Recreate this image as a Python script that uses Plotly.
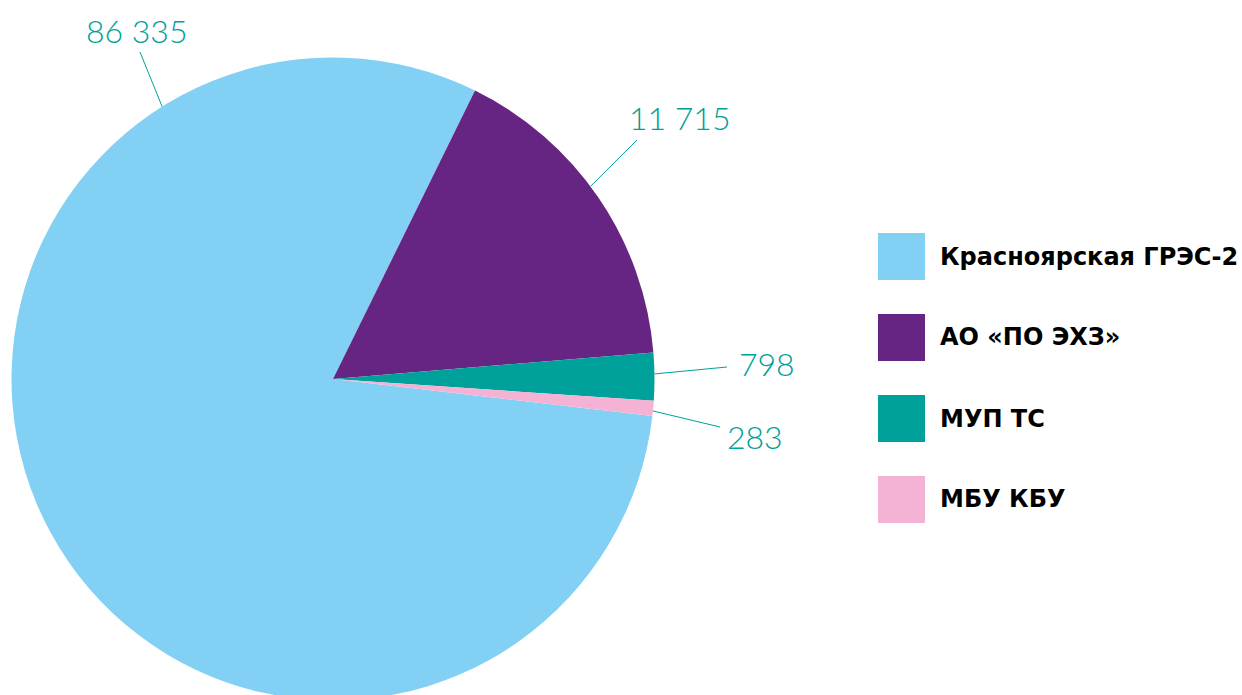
import math
import plotly.graph_objects as go

# ---- data ----
categories = ["Красноярская ГРЭС-2", "АО «ПО ЭХЗ»", "МУП ТС", "МБУ КБУ"]
label_values = [86335, 11715, 798, 283]          # numbers printed next to slices
slice_shares = [80.45, 16.4, 2.4, 0.75]            # slice sizes as drawn (% of circle)
colors = ["#83D0F5", "#662483", "#00A19A", "#F4B3D5"]
label_color = "#00A19A"

# ---- layout constants ----
W, H = 1242, 710
CX, CY, R = 333.0, 379.0, 321.5
ROTATION = 96.6
# per-slice label anchor angle (deg clockwise from 12 o'clock) and text centre (px)
label_anchor_deg = [327.9, 53.2, 89.1, 95.7]
label_line_end = [(140, 52), (637, 140), (727, 367), (720, 427)]
label_text_pos = [(137, 31), (680, 117), (767, 363), (755, 437)]

def px(x):
    return x / W

def py(y):
    return 1 - y / H

def fmt(v):
    return f"{v:,}".replace(",", " ")

fig = go.Figure()
fig.add_trace(go.Pie(
    labels=categories,
    values=slice_shares,
    sort=False,
    direction="clockwise",
    rotation=ROTATION,
    marker=dict(colors=colors, line=dict(width=0)),
    textinfo="none",
    hoverinfo="label",
    showlegend=False,
    domain=dict(x=[px(CX - R), px(CX + R)], y=[py(CY + R), py(CY - R)]),
))

shapes = []
annotations = []
for i, v in enumerate(label_values):
    a = math.radians(label_anchor_deg[i])
    x0 = CX + R * math.sin(a)
    y0 = CY - R * math.cos(a)
    x1, y1 = label_line_end[i]
    shapes.append(dict(type="line", xref="paper", yref="paper",
                       x0=px(x0), y0=py(y0), x1=px(x1), y1=py(y1),
                       line=dict(color=label_color, width=1)))
    tx, ty = label_text_pos[i]
    annotations.append(dict(xref="paper", yref="paper", x=px(tx), y=py(ty),
                            text=fmt(v), showarrow=False, xanchor="center", yanchor="middle",
                            font=dict(family="Lato", size=32, color=label_color, weight=300)))

# manual legend with large swatches
leg_x0, leg_size = 878, 47
leg_tops = [233, 314, 395, 476]
for i, cat in enumerate(categories):
    t = leg_tops[i]
    shapes.append(dict(type="rect", xref="paper", yref="paper",
                       x0=px(leg_x0), x1=px(leg_x0 + leg_size), y0=py(t + leg_size), y1=py(t),
                       fillcolor=colors[i], line=dict(width=0)))
    annotations.append(dict(xref="paper", yref="paper", x=px(938), y=py(t + leg_size / 2),
                            text=cat, showarrow=False, xanchor="left", yanchor="middle",
                            font=dict(family="DejaVu Sans", size=24, color="#000000", weight=700)))

fig.update_layout(
    width=W, height=H,
    margin=dict(l=0, r=0, t=0, b=0),
    paper_bgcolor="white", plot_bgcolor="white",
    shapes=shapes, annotations=annotations,
    showlegend=False,
)

fig.write_html("out.html", post_script="document.documentElement.style.overflow='hidden';document.body.style.overflow='hidden';")
